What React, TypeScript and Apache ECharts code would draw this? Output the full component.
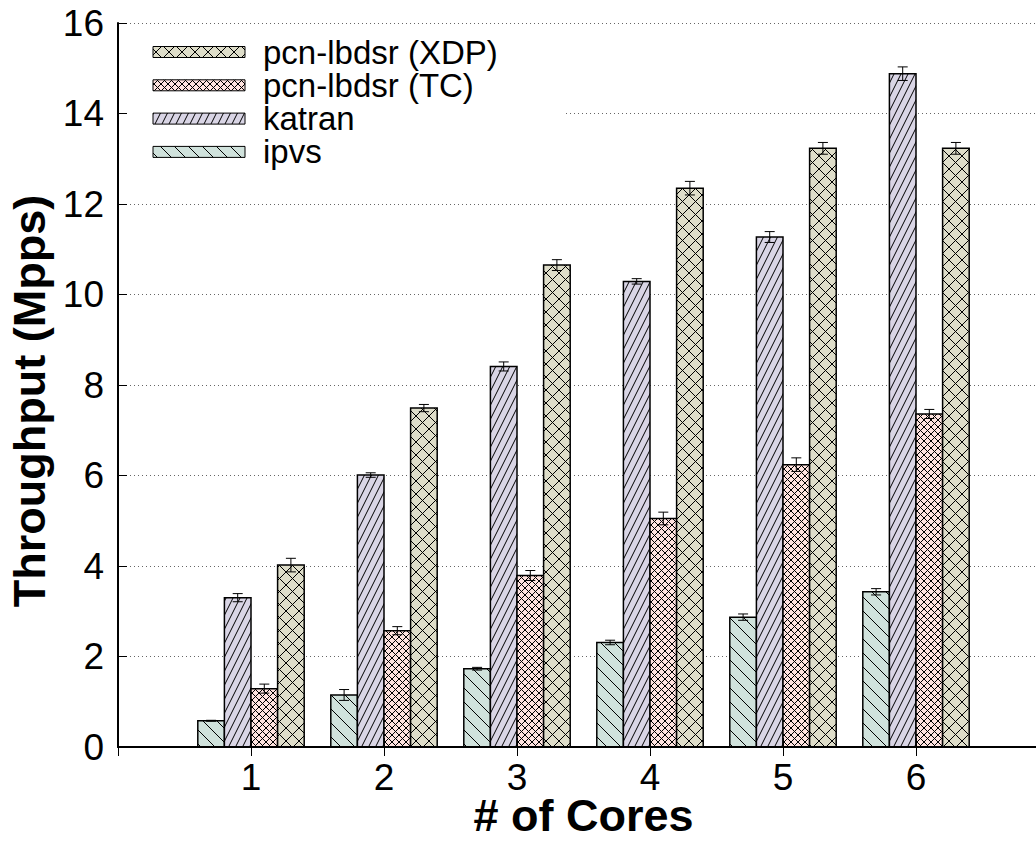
import React, { useEffect, useRef } from 'react';
import * as echarts from 'echarts';

// ---- data ----
const coreLabels = ['1', '2', '3', '4', '5', '6'];
const coreIndex = [1, 2, 3, 4, 5, 6];
const yTickValues = [0, 2, 4, 6, 8, 10, 12, 14, 16];

const ipvs = [0.58, 1.15, 1.73, 2.31, 2.87, 3.43];
const ipvsErr = [0.01, 0.12, 0.03, 0.05, 0.07, 0.07];
const katran = [3.3, 6.01, 8.41, 10.29, 11.27, 14.88];
const katranErr = [0.09, 0.05, 0.1, 0.06, 0.12, 0.15];
const tc = [1.29, 2.57, 3.79, 5.05, 6.24, 7.36];
const tcErr = [0.1, 0.09, 0.11, 0.14, 0.15, 0.1];
const xdp = [4.02, 7.49, 10.65, 12.35, 13.23, 13.23];
const xdpErr = [0.15, 0.08, 0.12, 0.15, 0.13, 0.13];

const seriesNames = ['ipvs', 'katran', 'pcn-lbdsr (TC)', 'pcn-lbdsr (XDP)'];
const legendOrder = ['pcn-lbdsr (XDP)', 'pcn-lbdsr (TC)', 'katran', 'ipvs'];

const FONT = '"Liberation Sans", Arial, Helvetica, sans-serif';
const BAR = 0.2;

function makeTile(w: number, h: number, bg: string, lines: number[][]) {
  const c = document.createElement('canvas');
  c.width = w;
  c.height = h;
  const ctx = c.getContext('2d')!;
  ctx.fillStyle = bg;
  ctx.fillRect(0, 0, w, h);
  ctx.strokeStyle = '#000';
  ctx.lineWidth = 1;
  ctx.beginPath();
  for (const dx of [-w, 0, w]) {
    for (const dy of [-h, 0, h]) {
      for (const [x1, y1, x2, y2] of lines) {
        ctx.moveTo(x1 + dx, y1 + dy);
        ctx.lineTo(x2 + dx, y2 + dy);
      }
    }
  }
  ctx.stroke();
  return { image: c.toDataURL(), repeat: 'repeat', imageWidth: w, imageHeight: h };
}

export default function App() {
  const ref = useRef<HTMLDivElement>(null);
  useEffect(() => {
    const chart = echarts.init(ref.current!, null, { renderer: 'svg' });

    const patterns: Record<string, any> = {
      'pcn-lbdsr (XDP)': makeTile(13, 13, '#deddc9', [[0, 0, 13, 13], [0, 13, 13, 0]]),
      'pcn-lbdsr (TC)': makeTile(7, 7, '#ffe3df', [[0, 0, 7, 7], [0, 7, 7, 0]]),
      katran: makeTile(7, 14, '#d9d5e5', [[0, 14, 7, 0]]),
      ipvs: makeTile(14, 14, '#d0e2dc', [[0, 0, 14, 14]]),
    };

    const values = [ipvs, katran, tc, xdp];
    const errs = [ipvsErr, katranErr, tcErr, xdpErr];

    const series = seriesNames.map((name, k) => ({
      type: 'custom',
      name,
      xAxisIndex: 0,
      yAxisIndex: 0,
      z: 2,
      data: coreIndex.map((c, i) => [c, values[k][i], errs[k][i]]),
      renderItem: (_params: any, api: any) => {
        const xi = api.value(0);
        const v = api.value(1);
        const e = api.value(2);
        const cx = xi + (k - 1.5) * BAR;
        const tl = api.coord([cx - BAR / 2, v]);
        const br = api.coord([cx + BAR / 2, 0]);
        const top = api.coord([cx, v + e]);
        const bot = api.coord([cx, v - e]);
        const cap = 5;
        const ls = { stroke: '#000', lineWidth: 1 };
        return {
          type: 'group',
          children: [
            {
              type: 'rect',
              shape: { x: tl[0], y: tl[1], width: br[0] - tl[0], height: br[1] - tl[1] },
              style: { fill: patterns[name], stroke: '#000', lineWidth: 1.5 },
            },
            { type: 'line', shape: { x1: top[0], y1: top[1], x2: bot[0], y2: bot[1] }, style: ls },
            { type: 'line', shape: { x1: top[0] - cap, y1: top[1], x2: top[0] + cap, y2: top[1] }, style: ls },
            { type: 'line', shape: { x1: bot[0] - cap, y1: bot[1], x2: bot[0] + cap, y2: bot[1] }, style: ls },
          ],
        };
      },
    }));

    const legendItems: any[] = [];
    legendOrder.forEach((name, i) => {
      const cy = 52 + i * 33.3;
      legendItems.push({
        type: 'rect',
        z: 4,
        shape: { x: 153, y: cy - 5.5, width: 92, height: 11 },
        style: { fill: patterns[name], stroke: '#000', lineWidth: 1 },
      });
      legendItems.push({
        type: 'text',
        z: 4,
        x: 263,
        y: cy,
        style: {
          text: name,
          font: `33px ${FONT}`,
          lineHeight: 30,
          fill: '#000',
          verticalAlign: 'middle',
          align: 'left',
        },
      });
    });

    const axisLineStyle = { color: '#000', width: 2 };
    chart.setOption({
      animation: false,
      backgroundColor: '#fff',
      grid: {
        left: 118,
        top: 23,
        right: 51,
        bottom: 95,
        containLabel: false,
        outerBoundsMode: 'none',
      },
      xAxis: [
        {
          type: 'value',
          position: 'bottom',
          min: 0,
          max: 7,
          interval: 1,
          z: 5,
          axisLine: { show: true, lineStyle: axisLineStyle },
          axisTick: { show: true, inside: true, length: 9, lineStyle: { color: '#000', width: 1 } },
          axisLabel: {
            formatter: (v: number) => (v >= 1 && v <= coreLabels.length ? coreLabels[v - 1] : ''),
            fontSize: 37,
            color: '#000',
            fontFamily: FONT,
            margin: 12,
          },
          splitLine: { show: false },
          name: '# of Cores',
          nameLocation: 'middle',
          nameGap: 46,
          nameMoveOverlap: false,
          nameTextStyle: {
            fontSize: 45,
            lineHeight: 45,
            fontWeight: 'bold',
            color: '#000',
            fontFamily: FONT,
          },
        },
        {
          type: 'value',
          position: 'top',
          min: 0,
          max: 7,
          interval: 1,
          z: 5,
          axisLine: { show: true, lineStyle: axisLineStyle },
          axisTick: { show: true, inside: true, length: 9, lineStyle: { color: '#000', width: 1 } },
          axisLabel: { show: false },
          splitLine: { show: false },
        },
      ],
      yAxis: [
        {
          type: 'value',
          position: 'left',
          min: yTickValues[0],
          max: yTickValues[yTickValues.length - 1],
          interval: 2,
          z: 0,
          axisLine: { show: false },
          axisTick: { show: false },
          axisLabel: { show: false },
          splitLine: { show: true, lineStyle: { color: '#666', width: 1, type: [1, 3] } },
        },
        {
          type: 'value',
          position: 'left',
          min: yTickValues[0],
          max: yTickValues[yTickValues.length - 1],
          interval: 2,
          z: 5,
          axisLine: { show: true, lineStyle: axisLineStyle },
          axisTick: { show: true, inside: true, length: 9, lineStyle: { color: '#000', width: 1 } },
          axisLabel: { fontSize: 37, color: '#000', fontFamily: FONT, margin: 14 },
          splitLine: { show: false },
          name: 'Throughput (Mpps)',
          nameLocation: 'middle',
          nameRotate: 90,
          nameGap: 64,
          nameTextStyle: {
            fontSize: 45,
            fontWeight: 'bold',
            color: '#000',
            fontFamily: FONT,
            padding: [0, 32, 0, 0],
          },
        },
      ],
      graphic: [
        {
          type: 'rect',
          z: 3,
          shape: { x: 120, y: 25, width: 445, height: 158 },
          style: { fill: '#fff', stroke: 'none' },
        },
        ...legendItems,
      ],
      series,
    });
    return () => chart.dispose();
  }, []);
  return (
    <div
      style={{
        position: 'fixed',
        left: 0,
        top: 0,
        width: 1036,
        height: 842,
        overflow: 'hidden',
        background: '#fff',
      }}
    >
      <div ref={ref} style={{ width: 1100, height: 842 }} />
    </div>
  );
}
